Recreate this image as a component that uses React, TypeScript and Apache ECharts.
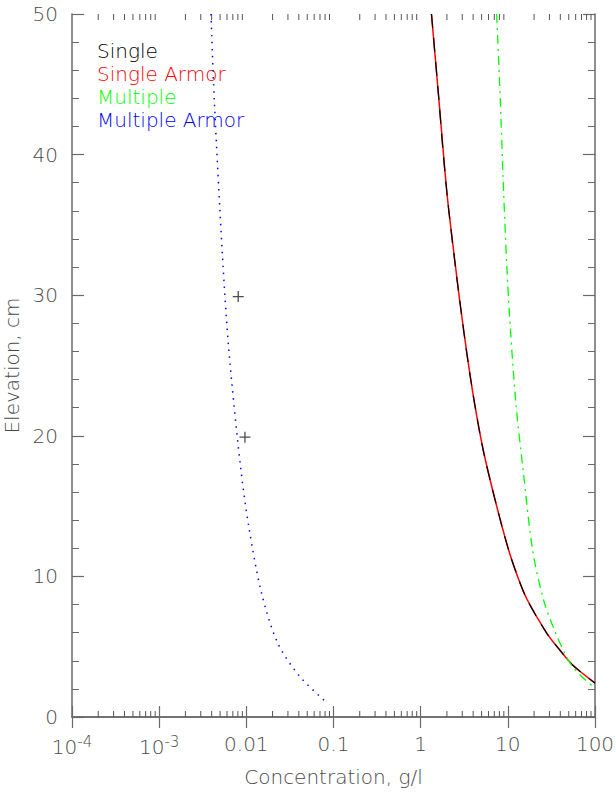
import React, { useEffect, useRef } from "react";
import * as echarts from "echarts";

const seriesNames = ["Single", "Single Armor", "Multiple", "Multiple Armor"];
const seriesColors = ["#000000", "#ff0000", "#00ff00", "#0000ff"];

const singleConc = [1.33, 1.62, 1.8, 2.04, 2.45, 2.8, 3.34, 4.09, 5.21, 7.15, 10.2, 13.4, 16.7, 27.9, 39.3, 55.3, 100];
const singleElev = [50, 43.88, 40.33, 36.77, 32.5, 29.66, 26.1, 22.55, 18.99, 15.43, 11.88, 9.74, 8.32, 5.97, 4.77, 3.7, 2.4];

const armorConc = [1.33, 1.62, 1.81, 2.04, 2.46, 2.8, 3.35, 4.09, 5.22, 7.15, 10.22, 13.4, 16.75, 27.9, 39.4, 55.3, 100];
const armorElev = [50, 43.88, 40.33, 36.77, 32.5, 29.66, 26.1, 22.55, 18.99, 15.43, 11.88, 9.74, 8.32, 5.97, 4.77, 3.7, 2.42];

const multConc = [7.44, 8.2, 9.02, 10.2, 12.28, 14.97, 19.25, 25.7, 35.3, 44.8, 53.5, 71.1, 100];
const multElev = [50, 43.88, 36.77, 29.66, 22.55, 17.57, 11.88, 8.32, 5.97, 4.55, 3.7, 2.84, 2.06];

const multArmorConc = [0.00393, 0.00428, 0.0053, 0.0063, 0.00854, 0.0107, 0.01496, 0.023, 0.0412, 0.0855];
const multArmorElev = [50, 44, 33, 26.1, 17.9, 13.5, 8.8, 5.24, 2.87, 0.97];

const obsConc = [0.00807, 0.00964];
const obsElev = [29.9, 19.9];

const xTickValues = [0.0001, 0.001, 0.01, 0.1, 1, 10, 100];
const xTickLabels = ["10{s|-4}", "10{s|-3}", "0.01", "0.1", "1", "10", "100"];
const minorMultipliers = [2, 3, 4, 5, 6, 7, 8, 9];
const decades = [0.0001, 0.001, 0.01, 0.1, 1, 10];

const FONT = "DejaVu Sans";
const FS = 20;

function zip(a: number[], b: number[]) {
  return a.map((v, i) => [v, b[i]]);
}

export default function App() {
  const ref = useRef<HTMLDivElement>(null);
  useEffect(() => {
    if (!ref.current) return;
    const chart = echarts.init(ref.current, null, { renderer: "svg" });
    const minorTicks: number[][] = [];
    decades.forEach((d) => minorMultipliers.forEach((m) => minorTicks.push([d * m, 0])));

    const axisColor = "#6a6a6a";
    const textColor = "#4a4a4a";

    const fmt = (v: number) => {
      let best = 0;
      let bd = Infinity;
      xTickValues.forEach((t, i) => {
        const d = Math.abs(Math.log10(v) - Math.log10(t));
        if (d < bd) {
          bd = d;
          best = i;
        }
      });
      return xTickLabels[best];
    };

    const legendTexts = seriesNames.map((n, i) => ({
      type: "text",
      left: 97,
      top: 41 + i * 23,
      style: {
        text: n,
        fill: seriesColors[i],
        font: `200 ${FS}px "${FONT}"`,
      },
    }));

    const lineCommon = { showSymbol: false, smooth: 0.3 };

    chart.setOption({
      animation: false,
      backgroundColor: "#ffffff",
      grid: { left: 72, right: 21, top: 14, bottom: 83, containLabel: false, outerBoundsMode: "none" },
      xAxis: [
        {
          type: "log",
          logBase: 10,
          min: 0.0001,
          max: 100,
          position: "bottom",
          name: "Concentration, g/l",
          nameLocation: "middle",
          nameGap: 50,
          nameTextStyle: { fontFamily: FONT, fontSize: FS, fontWeight: 200, color: textColor },
          axisLine: { lineStyle: { color: axisColor, width: 1.5 } },
          axisTick: { inside: true, length: 11, lineStyle: { color: axisColor, width: 1.2 } },
          axisLabel: {
            margin: 17,
            fontFamily: FONT,
            fontSize: FS,
            fontWeight: 200,
            color: textColor,
            formatter: fmt,
            rich: { s: { fontFamily: FONT, fontSize: 15, fontWeight: 200, color: textColor, padding: [0, 0, 10, 0] } },
          },
          splitLine: { show: false },
        },
        {
          type: "log",
          logBase: 10,
          min: 0.0001,
          max: 100,
          position: "top",
          axisLine: { lineStyle: { color: axisColor, width: 1.5 } },
          axisTick: { inside: true, length: 11, lineStyle: { color: axisColor, width: 1.2 } },
          axisLabel: { show: false },
          splitLine: { show: false },
        },
      ],
      yAxis: [
        {
          type: "value",
          min: 0,
          max: 50,
          interval: 10,
          position: "left",
          name: "Elevation, cm",
          nameLocation: "middle",
          nameGap: 45,
          nameTextStyle: { fontFamily: FONT, fontSize: FS, fontWeight: 200, color: textColor },
          axisLine: { show: true, lineStyle: { color: axisColor, width: 1.5 } },
          axisTick: { show: true, inside: true, length: 12, lineStyle: { color: axisColor, width: 1.2 } },
          minorTick: { show: true, splitNumber: 5, length: 7, lineStyle: { color: axisColor, width: 1 } },
          axisLabel: { margin: 14, fontFamily: FONT, fontSize: FS, fontWeight: 200, color: textColor },
          splitLine: { show: false },
        },
        {
          type: "value",
          min: 0,
          max: 50,
          interval: 10,
          position: "right",
          axisLine: { show: true, lineStyle: { color: axisColor, width: 1.5 } },
          axisTick: { show: true, inside: true, length: 12, lineStyle: { color: axisColor, width: 1.2 } },
          minorTick: { show: true, splitNumber: 5, length: 7, lineStyle: { color: axisColor, width: 1 } },
          axisLabel: { show: false },
          splitLine: { show: false },
        },
      ],
      graphic: legendTexts,
      series: [
        {
          type: "custom",
          name: "minorTicks",
          xAxisIndex: 0,
          yAxisIndex: 0,
          data: minorTicks,
          silent: true,
          clip: false,
          renderItem: (params: any, api: any) => {
            const cs = params.coordSys;
            const x = api.coord([api.value(0), 0])[0];
            const yb = cs.y + cs.height;
            const yt = cs.y;
            const style = { stroke: "#555555", lineWidth: 1 };
            return {
              type: "group",
              children: [
                { type: "line", shape: { x1: x, y1: yb, x2: x, y2: yb - 6 }, style },
                { type: "line", shape: { x1: x, y1: yt, x2: x, y2: yt + 6 }, style },
              ],
            };
          },
        },
        {
          type: "line",
          name: seriesNames[1],
          data: zip(armorConc, armorElev),
          ...lineCommon,
          lineStyle: { color: seriesColors[1], width: 1.5 },
        },
        {
          type: "line",
          name: seriesNames[0],
          data: zip(singleConc, singleElev),
          ...lineCommon,
          lineStyle: { color: seriesColors[0], width: 1.2, type: [14, 10] },
        },
        {
          type: "line",
          name: seriesNames[2],
          data: zip(multConc, multElev),
          ...lineCommon,
          lineStyle: { color: seriesColors[2], width: 1.3, type: [9, 5, 2, 5] },
        },
        {
          type: "line",
          name: seriesNames[3],
          data: zip(multArmorConc, multArmorElev),
          ...lineCommon,
          lineStyle: { color: seriesColors[3], width: 1.5, type: [1.5, 5.5] },
        },
        {
          type: "scatter",
          name: "Observed",
          data: zip(obsConc, obsElev),
          symbol: "path://M4.4,0 H5.6 V4.4 H10 V5.6 H5.6 V10 H4.4 V5.6 H0 V4.4 H4.4 Z",
          symbolSize: 11,
          itemStyle: { color: "#222222" },
        },
      ],
    });
    return () => chart.dispose();
  }, []);
  return <div ref={ref} style={{ position: "fixed", left: 0, top: 0, width: 616, height: 800 }} />;
}
